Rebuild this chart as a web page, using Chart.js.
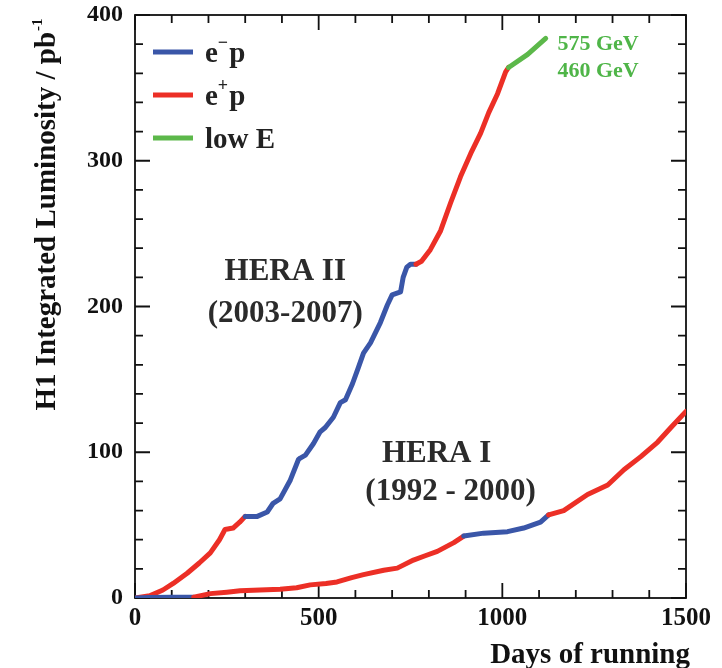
<!DOCTYPE html>
<html>
<head>
<meta charset="utf-8">
<script src="https://cdn.jsdelivr.net/npm/chart.js@4.4.0/dist/chart.umd.min.js"></script>
<style>
  body { margin: 0; background: #fff; }
  #wrap { width: 722px; height: 668px; position: relative; }
</style>
</head>
<body>
<div id="wrap"><canvas id="lumi"></canvas></div>
<script>
// HERA II (2003-2007): days of running, integrated luminosity, beam of the segment starting at each point
const hera2Days = [0, 40, 76, 104, 142, 175, 205, 230, 245, 267, 285, 300, 333, 360, 376, 395, 423, 445, 450, 464, 486, 504, 518, 540, 559, 573, 592, 608, 622, 641, 668, 687, 700, 723, 730, 740, 750, 765, 780, 804, 832, 859, 886, 914, 941, 963, 987, 1009, 1017, 1069, 1118];
const hera2Lumi = [0, 1.5, 5.5, 10, 17, 24, 31, 40, 47, 48, 52, 56, 56, 59, 65, 68, 81, 95, 96, 98, 106, 114, 117, 124, 134, 136, 147, 158, 168, 175, 189, 201, 208, 210, 220, 227, 229, 229, 231, 239, 252, 271, 289, 305, 319, 333, 346, 361, 364, 373, 384];
const hera2Beam = ['e+p', 'e+p', 'e+p', 'e+p', 'e+p', 'e+p', 'e+p', 'e+p', 'e+p', 'e+p', 'e+p',
  'e-p', 'e-p', 'e-p', 'e-p', 'e-p', 'e-p', 'e-p', 'e-p', 'e-p', 'e-p', 'e-p', 'e-p', 'e-p', 'e-p', 'e-p', 'e-p', 'e-p', 'e-p', 'e-p', 'e-p', 'e-p', 'e-p', 'e-p', 'e-p', 'e-p', 'e-p',
  'e+p', 'e+p', 'e+p', 'e+p', 'e+p', 'e+p', 'e+p', 'e+p', 'e+p', 'e+p', 'e+p',
  'lowE', 'lowE', 'lowE'];

// HERA I (1992-2000)
const hera1Days = [0, 40, 100, 160, 205, 250, 286, 340, 395, 440, 477, 520, 550, 590, 622, 677, 714, 758, 790, 823, 868, 895, 949, 1014, 1058, 1104, 1126, 1167, 1232, 1287, 1331, 1377, 1423, 1459, 1500];
const hera1Lumi = [0, 0.3, 0.5, 0.6, 3, 4, 5, 5.5, 6, 7, 9, 10, 11, 14, 16, 19, 20.5, 26, 29, 32, 38, 42.5, 44.5, 45.5, 48, 52, 57, 60, 71, 77.5, 88, 97, 107, 117, 128];
const hera1Beam = ['e-p', 'e-p', 'e-p', 'e+p', 'e+p', 'e+p', 'e+p', 'e+p', 'e+p', 'e+p', 'e+p', 'e+p', 'e+p', 'e+p', 'e+p', 'e+p', 'e+p', 'e+p', 'e+p', 'e+p', 'e+p',
  'e-p', 'e-p', 'e-p', 'e-p', 'e-p',
  'e+p', 'e+p', 'e+p', 'e+p', 'e+p', 'e+p', 'e+p', 'e+p', 'e+p'];

const beamColors = { 'e-p': '#3a56a8', 'e+p': '#ec2f26', 'lowE': '#5cb84a' };
const legendBeams = ['e-p', 'e+p', 'lowE'];
const legendLabels = [['e', '\u2212', 'p'], ['e', '+', 'p'], ['low E', '', '']];

// text labels placed in data coordinates (day, luminosity at baseline)
const notes = [
  { text: 'HERA II', x: 409, y: 218, size: 31, color: '#2b2b2b', align: 'center' },
  { text: '(2003-2007)', x: 409, y: 189.5, size: 31, color: '#2b2b2b', align: 'center' },
  { text: 'HERA I', x: 821, y: 93.3, size: 31, color: '#2b2b2b', align: 'center' },
  { text: '(1992 - 2000)', x: 859, y: 67.2, size: 31, color: '#2b2b2b', align: 'center' },
  { text: '575 GeV', x: 1150, y: 376, size: 22, color: '#4fb548', align: 'left' },
  { text: '460 GeV', x: 1150, y: 357.5, size: 22, color: '#4fb548', align: 'left' }
];

const serif = '"Liberation Serif", "DejaVu Serif", serif';

function toPoints(days, lumi) {
  return days.map((d, i) => ({ x: d, y: lumi[i] }));
}

function makeSet(days, lumi, beam) {
  return {
    data: toPoints(days, lumi),
    borderWidth: 5,
    pointRadius: 0,
    borderCapStyle: 'round',
    borderJoinStyle: 'round',
    borderColor: beamColors[beam[0]],
    segment: { borderColor: c => beamColors[beam[c.p0DataIndex]] }
  };
}

const framePlugin = {
  id: 'frame',
  beforeDatasetsDraw(chart) {
    const { ctx, chartArea: a, scales: { x, y } } = chart;
    ctx.save();
    ctx.strokeStyle = '#111';
    ctx.lineWidth = 1.8;
    ctx.strokeRect(a.left, a.top, a.right - a.left, a.bottom - a.top);
    ctx.beginPath();
    for (let v = 0; v <= 400; v += 20) {
      const py = y.getPixelForValue(v);
      const len = v % 100 === 0 ? 15 : 8;
      ctx.moveTo(a.left, py); ctx.lineTo(a.left + len, py);
      ctx.moveTo(a.right, py); ctx.lineTo(a.right - len, py);
    }
    for (let v = 0; v <= 1500; v += 100) {
      const px = x.getPixelForValue(v);
      const len = v % 500 === 0 ? 15 : 8;
      ctx.moveTo(px, a.bottom); ctx.lineTo(px, a.bottom - len);
      ctx.moveTo(px, a.top); ctx.lineTo(px, a.top + len);
    }
    ctx.stroke();
    ctx.restore();
  },
  afterDraw(chart) {
    const { ctx, chartArea: a, scales: { x, y } } = chart;
    ctx.save();

    // legend
    legendBeams.forEach((b, i) => {
      const ly = a.top + 37 + i * 43;
      ctx.strokeStyle = beamColors[b];
      ctx.lineWidth = 5;
      ctx.beginPath();
      ctx.moveTo(a.left + 18, ly); ctx.lineTo(a.left + 58, ly);
      ctx.stroke();
      const [base, sup, rest] = legendLabels[i];
      let tx = a.left + 70;
      ctx.fillStyle = '#222';
      ctx.textBaseline = 'alphabetic';
      ctx.textAlign = 'left';
      ctx.font = 'bold 29px ' + serif;
      ctx.fillText(base, tx, ly + 10);
      tx += ctx.measureText(base).width;
      if (sup) {
        ctx.font = 'bold 18px ' + serif;
        ctx.fillText(sup, tx, ly - 4);
        tx += ctx.measureText(sup).width + 1;
        ctx.font = 'bold 29px ' + serif;
        ctx.fillText(rest, tx, ly + 10);
      }
    });

    // annotations
    notes.forEach(n => {
      ctx.font = 'bold ' + n.size + 'px ' + serif;
      ctx.fillStyle = n.color;
      ctx.textAlign = n.align;
      ctx.textBaseline = 'alphabetic';
      ctx.fillText(n.text, x.getPixelForValue(n.x), y.getPixelForValue(n.y));
    });

    // y title with superscript
    ctx.fillStyle = '#111';
    ctx.translate(48, 215);
    ctx.rotate(-Math.PI / 2);
    ctx.font = 'bold 29px ' + serif;
    const main = 'H1 Integrated Luminosity / pb';
    const w1 = ctx.measureText(main).width;
    ctx.font = 'bold 15px ' + serif;
    const w2 = ctx.measureText('-1').width;
    ctx.textAlign = 'left';
    ctx.textBaseline = 'middle';
    ctx.font = 'bold 29px ' + serif;
    ctx.fillText(main, -(w1 + w2) / 2, 0);
    ctx.font = 'bold 15px ' + serif;
    ctx.fillText('-1', -(w1 + w2) / 2 + w1 + 1, -10);
    ctx.setTransform(1, 0, 0, 1, 0, 0);

    // x title
    ctx.font = 'bold 29px ' + serif;
    ctx.textAlign = 'right';
    ctx.textBaseline = 'alphabetic';
    ctx.fillText('Days of running', a.right + 4, 663);
    ctx.restore();
  }
};

new Chart(document.getElementById('lumi'), {
  type: 'line',
  data: {
    datasets: [
      makeSet(hera1Days, hera1Lumi, hera1Beam),
      makeSet(hera2Days, hera2Lumi, hera2Beam)
    ]
  },
  options: {
    responsive: true,
    maintainAspectRatio: false,
    animation: false,
    layout: { padding: { top: 15, right: 36, left: 0, bottom: 0 } },
    plugins: { legend: { display: false }, tooltip: { enabled: false } },
    scales: {
      x: {
        type: 'linear',
        min: 0, max: 1500,
        grid: { display: false, drawTicks: false },
        border: { display: false },
        ticks: {
          stepSize: 100, autoSkip: false, maxRotation: 0, padding: 6,
          color: '#111',
          font: { family: serif, size: 25, weight: 'bold' },
          callback: v => (v % 500 === 0 ? v : '')
        },
        afterFit: s => { s.height = 70; s.paddingLeft = 0; s.paddingRight = 0; }
      },
      y: {
        min: 0, max: 400,
        grid: { display: false, drawTicks: false },
        border: { display: false },
        ticks: {
          stepSize: 20, autoSkip: false, padding: 12,
          color: '#111',
          font: { family: serif, size: 24, weight: 'bold' },
          callback: v => (v % 100 === 0 ? v : '')
        },
        afterFit: s => { s.width = 135; s.paddingTop = 0; s.paddingBottom = 0; }
      }
    }
  },
  plugins: [framePlugin]
});
</script>
</body>
</html>
